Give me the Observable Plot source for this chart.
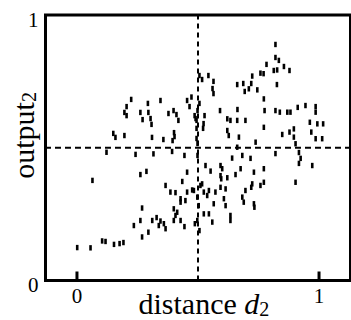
<!DOCTYPE html>
<html><head><meta charset="utf-8">
<script src="https://cdn.jsdelivr.net/npm/d3@7"></script>
<script src="https://cdn.jsdelivr.net/npm/@observablehq/plot@0.6"></script>
<style>
html,body{margin:0;padding:0;background:#fff;}
text{white-space:pre;}
</style></head><body><div id="chart"></div>
<script>
// distance d2 values
const xs = [0.150,0.159,0.196,0.224,0.205,0.196,0.205,0.262,0.271,0.293,0.295,0.304,0.308,0.345,0.310,0.357,0.378,0.399,0.411,0.419,0.401,0.403,0.395,0.455,0.473,0.465,0.486,0.494,0.494,0.494,
0.506,0.517,0.543,0.564,0.560,0.564,0.506,0.498,0.527,0.490,0.523,0.521,0.498,
0.591,0.621,0.634,0.621,0.627,0.662,0.663,0.669,0.696,0.662,0.687,0.720,0.710,0.693,0.745,0.724,0.758,0.771,0.783,0.820,0.820,0.834,0.855,0.878,0.813,0.827,0.826,0.772,0.775,0.820,0.838,0.869,0.882,0.912,0.944,0.986,0.986,0.962,0.993,1.017,0.968,0.986,1.013,0.772,0.848,0.878,0.896,0.896,0.903,0.738,0.662,
0.122,0.242,0.316,0.393,0.444,0.498,0.641,0.683,0.717,0.820,0.917,0.924,0.917,0.972,
0.064,0.262,0.287,0.366,0.386,0.407,0.435,0.455,0.476,0.428,0.428,0.448,0.400,0.414,0.407,0.262,0.269,0.235,0.311,0.329,0.345,0.359,0.366,0.295,0.269,0.400,0.428,0.444,0.497,0.487,0.001,0.056,0.104,0.118,0.153,0.176,0.192,0.338,
0.531,0.552,0.593,0.600,0.676,0.655,0.772,0.731,0.593,0.596,0.621,0.510,0.517,0.483,0.524,0.545,0.593,0.614,0.572,0.724,0.720,0.758,0.772,0.696,0.497,0.503,0.538,0.565,0.607,0.614,0.683,0.689,0.731,0.733,0.524,0.545,0.559,0.634,0.634,0.506,0.903,0.455];
// output2 values
const ys = [0.554,0.539,0.546,0.682,0.655,0.633,0.621,0.633,0.606,0.667,0.633,0.610,0.588,0.678,0.539,0.531,0.629,0.640,0.625,0.603,0.557,0.542,0.527,0.678,0.691,0.655,0.621,0.603,0.573,0.535,
0.772,0.757,0.772,0.750,0.723,0.704,0.667,0.640,0.621,0.610,0.591,0.573,0.516,
0.640,0.609,0.603,0.565,0.546,0.603,0.644,0.540,0.603,0.738,0.742,0.742,0.722,0.712,0.718,0.770,0.781,0.779,0.814,0.889,0.840,0.829,0.806,0.791,0.791,0.793,0.738,0.684,0.640,0.640,0.634,0.634,0.634,0.652,0.659,0.655,0.634,0.596,0.590,0.590,0.559,0.534,0.534,0.577,0.550,0.559,0.571,0.540,0.515,0.521,0.502,
0.483,0.475,0.477,0.486,0.471,0.471,0.461,0.471,0.460,0.478,0.482,0.460,0.441,0.433,
0.377,0.399,0.411,0.358,0.333,0.331,0.373,0.333,0.341,0.308,0.295,0.301,0.270,0.257,0.245,0.226,0.273,0.207,0.226,0.237,0.224,0.214,0.195,0.182,0.164,0.226,0.226,0.203,0.226,0.214,0.124,0.123,0.149,0.147,0.136,0.139,0.143,0.207,
0.433,0.412,0.433,0.421,0.421,0.399,0.421,0.408,0.395,0.383,0.387,0.358,0.364,0.339,0.333,0.339,0.351,0.345,0.333,0.364,0.351,0.358,0.370,0.339,0.314,0.282,0.320,0.289,0.308,0.282,0.314,0.295,0.289,0.276,0.251,0.251,0.220,0.245,0.226,0.188,0.370,0.408];

const xTicks = [0, 1];
const xTickLabels = ["0", "1"];
const yTicks = [0, 1];
const yTickLabels = ["0", "1"];
const splitX = [0.5];
const splitY = [0.5];
const xLabelParts = [{t: "distance "}, {t: "d", italic: true}, {t: "2", sub: true}];
const yLabelParts = [{t: "output"}, {t: "2", sub: true}];

const points = xs.map((x, i) => ({x, y: ys[i]}));
const dashSymbol = {draw(ctx) { ctx.moveTo(0, -2.7); ctx.lineTo(0, 2.7); }};
const tickSymbol = {draw(ctx) { ctx.moveTo(0, 0); ctx.lineTo(0, -9); }};
const serif = "'Liberation Serif', 'Times New Roman', serif";

const chart = Plot.plot({
  width: 351, height: 320,
  marginLeft: 45, marginRight: 1, marginTop: 14.5, marginBottom: 40,
  style: {background: "white", fontFamily: serif, color: "black", overflow: "visible"},
  x: {domain: [-0.13, 1.13], axis: null},
  y: {domain: [0, 1], axis: null},
  marks: [
    Plot.ruleX(splitX, {x: d => d, stroke: "black", strokeWidth: 2, strokeDasharray: "5,4"}),
    Plot.ruleY(splitY, {y: d => d, stroke: "black", strokeWidth: 2, strokeDasharray: "6,4"}),
    Plot.dot(points, {x: "x", y: "y", symbol: dashSymbol, r: 3, stroke: "black", fill: "none", strokeWidth: 2.6}),
    Plot.dot(xTicks, {x: d => d, frameAnchor: "bottom", symbol: tickSymbol, r: 3, stroke: "black", fill: "none", strokeWidth: 3}),
    Plot.frame({stroke: "black", strokeWidth: 3}),
    Plot.text(xTicks, {x: d => d, text: (d, i) => xTickLabels[i], frameAnchor: "bottom", lineAnchor: "top", dy: 8, fontSize: 21, fill: "black"}),
    Plot.text(yTicks, {y: d => d, text: (d, i) => yTickLabels[i], frameAnchor: "left", textAnchor: "end", lineAnchor: "middle", dx: -7, dy: 5, fontSize: 21, fill: "black"}),
    Plot.text(["XLABEL"], {frameAnchor: "bottom", textAnchor: "start", lineAnchor: "bottom", dx: -59.5, dy: 33, fontSize: 30, fill: "black"}),
    Plot.text(["YLABEL"], {frameAnchor: "left", textAnchor: "start", lineAnchor: "bottom", rotate: -90, dx: -12, dy: 31, fontSize: 30, fill: "black"})
  ]
});
document.getElementById("chart").appendChild(chart);

function rich(marker, parts) {
  const ns = "http://www.w3.org/2000/svg";
  chart.querySelectorAll("text").forEach(el => {
    if (el.textContent !== marker) return;
    el.textContent = "";
    parts.forEach(p => {
      const ts = document.createElementNS(ns, "tspan");
      ts.textContent = p.t;
      if (p.italic) ts.setAttribute("font-style", "italic");
      if (p.sub) { ts.setAttribute("font-size", "0.67em"); ts.setAttribute("dy", "0.12em"); }
      el.appendChild(ts);
    });
  });
}
rich("XLABEL", xLabelParts);
rich("YLABEL", yLabelParts);
</script></body></html>
